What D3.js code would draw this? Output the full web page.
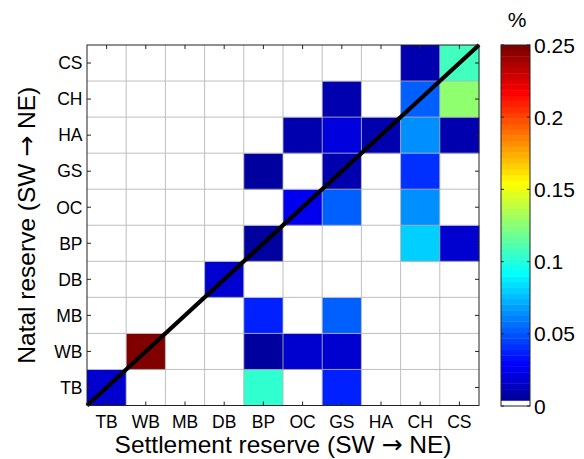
<!DOCTYPE html>
<html><head><meta charset="utf-8">
<script src="https://cdn.jsdelivr.net/npm/d3@7"></script>
<style>body{margin:0;background:#fff}svg{display:block}text{font-family:"Liberation Sans",Arial,Helvetica,sans-serif;fill:#000}</style>
</head><body><svg id="c" width="584" height="459"></svg>
<script>
// Reserves ordered SW -> NE
const reserves = ["TB","WB","MB","DB","BP","OC","GS","HA","CH","CS"];
// rows = natal reserve, columns = settlement reserve (same order as reserves)
const natalTB = [0.018,0,0,0,0.104,0,0.037,0,0,0];
const natalWB = [0,0.25,0,0,0.006,0.018,0.018,0,0,0];
const natalMB = [0,0,0,0,0.037,0,0.053,0,0,0];
const natalDB = [0,0,0,0.018,0,0,0,0,0,0];
const natalBP = [0,0,0,0,0.006,0,0,0,0.08,0.018];
const natalOC = [0,0,0,0,0,0.025,0.053,0,0.065,0];
const natalGS = [0,0,0,0,0.006,0,0.01,0,0.041,0];
const natalHA = [0,0,0,0,0,0.01,0.021,0.01,0.065,0.01];
const natalCH = [0,0,0,0,0,0,0.01,0,0.053,0.127];
const natalCS = [0,0,0,0,0,0,0,0,0.01,0.107];
const natalRows = [natalTB,natalWB,natalMB,natalDB,natalBP,natalOC,natalGS,natalHA,natalCH,natalCS];
const colorTicks = [0,0.05,0.1,0.15,0.2,0.25];
const colorMax = 0.25;

// MATLAB jet(64) with first entry white
function jet64(){
  const out=[];
  for(let i=1;i<=64;i++){
    let r,g,b;
    if(i<=8){r=0;g=0;b=(i+8)/16;}
    else if(i<=24){r=0;g=(i-8)/16;b=1;}
    else if(i<=40){r=(i-24)/16;g=1;b=1-(i-24)/16;}
    else if(i<=56){r=1;g=1-(i-40)/16;b=0;}
    else {r=1-(i-56)/16;g=0;b=0;}
    out.push(d3.rgb(Math.round(r*255),Math.round(g*255),Math.round(b*255)).formatHex());
  }
  out[0]="#ffffff";
  return out;
}
const palette = jet64();
const color = d3.scaleQuantize().domain([0,colorMax]).range(palette);

const svg = d3.select("#c");
const L=87,R=479,T=45,B=405.5;
const x = d3.scaleBand().domain(reserves).range([L,R]);
const y = d3.scaleBand().domain(reserves).range([B,T]);
const xl = d3.scaleLinear().domain([0,reserves.length]).range([L,R]);
const yl = d3.scaleLinear().domain([0,reserves.length]).range([B,T]);

const cells=[];
natalRows.forEach((row,i)=>row.forEach((v,j)=>cells.push({n:reserves[i],s:reserves[j],v})));
svg.append("g").selectAll("rect").data(cells).join("rect")
  .attr("x",d=>x(d.s)).attr("y",d=>y(d.n))
  .attr("width",x.bandwidth()+0.3).attr("height",y.bandwidth()+0.3)
  .attr("fill",d=>color(d.v));

// grid lines
const g = svg.append("g").attr("stroke","#b4b4b4").attr("stroke-width",1).attr("opacity",0.85);
d3.range(1,reserves.length).forEach(k=>{
  g.append("line").attr("x1",xl(k)).attr("x2",xl(k)).attr("y1",T).attr("y2",B);
  g.append("line").attr("y1",yl(k)).attr("y2",yl(k)).attr("x1",L).attr("x2",R);
});

// diagonal
svg.append("line").attr("x1",xl(0)).attr("y1",yl(0)).attr("x2",xl(10)).attr("y2",yl(10))
  .attr("stroke","#000").attr("stroke-width",4.2).attr("stroke-linecap","butt");

// axes
const tl=4;
const ax = svg.append("g");
reserves.forEach(r=>{
  const cx=x(r)+x.bandwidth()/2, cy=y(r)+y.bandwidth()/2;
  ax.append("line").attr("x1",cx).attr("x2",cx).attr("y1",B).attr("y2",B-tl).attr("stroke","#222");
  ax.append("line").attr("x1",cx).attr("x2",cx).attr("y1",T).attr("y2",T+tl).attr("stroke","#222");
  ax.append("line").attr("y1",cy).attr("y2",cy).attr("x1",L).attr("x2",L+tl).attr("stroke","#222");
  ax.append("line").attr("y1",cy).attr("y2",cy).attr("x1",R).attr("x2",R-tl).attr("stroke","#222");
  ax.append("text").attr("x",cx).attr("y",428).attr("text-anchor","middle").attr("font-size",17.5).text(r);
  ax.append("text").attr("x",82.5).attr("y",cy+6.3).attr("text-anchor","end").attr("font-size",17.5).text(r);
});
svg.append("rect").attr("x",L).attr("y",T).attr("width",R-L).attr("height",B-T)
  .attr("fill","none").attr("stroke","#222").attr("stroke-width",1);

function axisLabel(sel, pre, post){
  const t = sel.append("text").attr("text-anchor","middle").attr("font-size",24.5);
  t.append("tspan").text(pre + " ");
  t.append("tspan").attr("font-family","'DejaVu Sans'").attr("font-size",25).text("\u2192");
  t.append("tspan").text(" " + post);
  return t;
}
axisLabel(svg.append("g").attr("transform",`translate(${(L+R)/2},453)`), "Settlement reserve (SW", "NE)");
axisLabel(svg.append("g").attr("transform",`translate(35,${(T+B)/2}) rotate(-90)`), "Natal reserve (SW", "NE)");

// colorbar
const CL=501,CR=530,CT=45,CB=406;
const cy = d3.scaleLinear().domain([0,colorMax]).range([CB,CT]);
const cb = svg.append("g");
const step = colorMax/palette.length;
cb.selectAll("rect").data(palette).join("rect")
  .attr("x",CL).attr("width",CR-CL)
  .attr("y",(d,i)=>cy((i+1)*step)).attr("height",(d,i)=>cy(i*step)-cy((i+1)*step)+0.4)
  .attr("fill",d=>d);
cb.append("rect").attr("x",CL).attr("y",CT).attr("width",CR-CL).attr("height",CB-CT)
  .attr("fill","none").attr("stroke","#222");
colorTicks.forEach(t=>{
  cb.append("line").attr("x1",CL).attr("x2",CL+3).attr("y1",cy(t)).attr("y2",cy(t)).attr("stroke","#222");
  cb.append("line").attr("x1",CR).attr("x2",CR-3).attr("y1",cy(t)).attr("y2",cy(t)).attr("stroke","#222");
  cb.append("text").attr("x",534).attr("y",cy(t)+7.5).attr("font-size",21).text(String(t));
});
svg.append("text").attr("x",517).attr("y",27).attr("text-anchor","middle").attr("font-size",21).text("%");
</script></body></html>
